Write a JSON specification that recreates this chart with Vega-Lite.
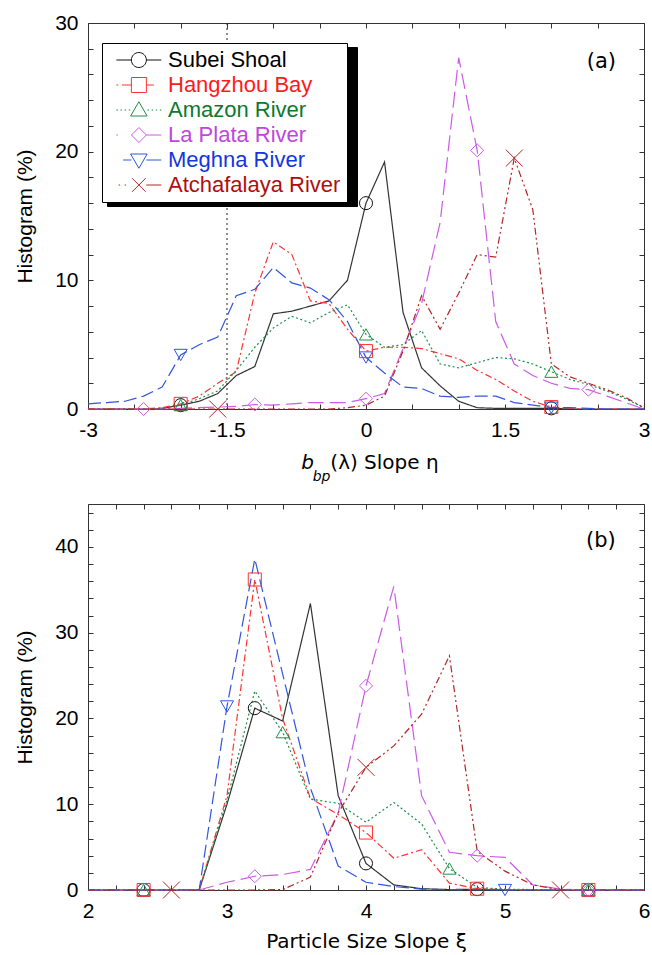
{
  "$schema": "https://vega.github.io/schema/vega-lite/v6.json",
  "background": "white",
  "padding": {"left": 14, "top": 11, "right": 0, "bottom": 0},
  "autosize": {"type": "pad"},
  "datasets": {
    "a": [
      {"x": -3, "Subei Shoal": 0, "Hangzhou Bay": 0, "Amazon River": 0, "La Plata River": 0, "Meghna River": 0.4, "Atchafalaya River": 0},
      {"x": -2.8, "Subei Shoal": 0, "Hangzhou Bay": 0, "Amazon River": 0, "La Plata River": 0, "Meghna River": 0.5, "Atchafalaya River": 0},
      {"x": -2.6, "Subei Shoal": 0, "Hangzhou Bay": 0, "Amazon River": 0, "La Plata River": 0, "Meghna River": 0.6, "Atchafalaya River": 0},
      {"x": -2.4, "Subei Shoal": 0, "Hangzhou Bay": 0, "Amazon River": 0, "La Plata River": 0, "Meghna River": 1.0, "Atchafalaya River": 0},
      {"x": -2.2, "Subei Shoal": 0.05, "Hangzhou Bay": 0.1, "Amazon River": 0.05, "La Plata River": 0, "Meghna River": 1.7, "Atchafalaya River": 0},
      {"x": -2, "Subei Shoal": 0.3, "Hangzhou Bay": 0.4, "Amazon River": 0.3, "La Plata River": 0.05, "Meghna River": 4.2, "Atchafalaya River": 0},
      {"x": -1.8, "Subei Shoal": 0.6, "Hangzhou Bay": 1.0, "Amazon River": 0.8, "La Plata River": 0.1, "Meghna River": 5.0, "Atchafalaya River": 0},
      {"x": -1.6, "Subei Shoal": 1.2, "Hangzhou Bay": 2.0, "Amazon River": 1.4, "La Plata River": 0.15, "Meghna River": 5.6, "Atchafalaya River": 0},
      {"x": -1.4, "Subei Shoal": 2.6, "Hangzhou Bay": 2.9, "Amazon River": 3.0, "La Plata River": 0.2, "Meghna River": 8.8, "Atchafalaya River": 0},
      {"x": -1.2, "Subei Shoal": 3.3, "Hangzhou Bay": 9.0, "Amazon River": 4.8, "La Plata River": 0.35, "Meghna River": 9.3, "Atchafalaya River": 0},
      {"x": -1, "Subei Shoal": 7.4, "Hangzhou Bay": 13.0, "Amazon River": 6.3, "La Plata River": 0.3, "Meghna River": 11.0, "Atchafalaya River": 0},
      {"x": -0.8, "Subei Shoal": 7.6, "Hangzhou Bay": 12.0, "Amazon River": 7.2, "La Plata River": 0.4, "Meghna River": 9.8, "Atchafalaya River": 0},
      {"x": -0.6, "Subei Shoal": 8.0, "Hangzhou Bay": 8.4, "Amazon River": 6.7, "La Plata River": 0.5, "Meghna River": 9.4, "Atchafalaya River": 0},
      {"x": -0.4, "Subei Shoal": 8.4, "Hangzhou Bay": 8.2, "Amazon River": 7.5, "La Plata River": 0.5, "Meghna River": 8.5, "Atchafalaya River": 0},
      {"x": -0.2, "Subei Shoal": 10.0, "Hangzhou Bay": 6.2, "Amazon River": 8.1, "La Plata River": 0.5, "Meghna River": 6.8, "Atchafalaya River": 0.1},
      {"x": 0, "Subei Shoal": 16.0, "Hangzhou Bay": 4.5, "Amazon River": 5.8, "La Plata River": 0.8, "Meghna River": 4.0, "Atchafalaya River": 0.3},
      {"x": 0.2, "Subei Shoal": 19.2, "Hangzhou Bay": 4.8, "Amazon River": 4.8, "La Plata River": 1.2, "Meghna River": 2.8, "Atchafalaya River": 1.0},
      {"x": 0.4, "Subei Shoal": 7.5, "Hangzhou Bay": 4.8, "Amazon River": 5.0, "La Plata River": 4.7, "Meghna River": 1.7, "Atchafalaya River": 4.5},
      {"x": 0.6, "Subei Shoal": 3.2, "Hangzhou Bay": 4.7, "Amazon River": 6.1, "La Plata River": 8.2, "Meghna River": 1.6, "Atchafalaya River": 8.8},
      {"x": 0.8, "Subei Shoal": 1.8, "Hangzhou Bay": 4.3, "Amazon River": 3.5, "La Plata River": 14.5, "Meghna River": 1.0, "Atchafalaya River": 6.2},
      {"x": 1, "Subei Shoal": 0.6, "Hangzhou Bay": 3.9, "Amazon River": 3.2, "La Plata River": 27.3, "Meghna River": 0.9, "Atchafalaya River": 9.0},
      {"x": 1.2, "Subei Shoal": 0.1, "Hangzhou Bay": 3.0, "Amazon River": 3.6, "La Plata River": 20.1, "Meghna River": 1.0, "Atchafalaya River": 12.0},
      {"x": 1.4, "Subei Shoal": 0.05, "Hangzhou Bay": 2.3, "Amazon River": 4.0, "La Plata River": 6.8, "Meghna River": 1.0, "Atchafalaya River": 11.8},
      {"x": 1.6, "Subei Shoal": 0.05, "Hangzhou Bay": 1.4, "Amazon River": 3.9, "La Plata River": 3.5, "Meghna River": 0.5, "Atchafalaya River": 19.5},
      {"x": 1.8, "Subei Shoal": 0.05, "Hangzhou Bay": 0.6, "Amazon River": 3.5, "La Plata River": 2.6, "Meghna River": 0.3, "Atchafalaya River": 15.5},
      {"x": 2, "Subei Shoal": 0.05, "Hangzhou Bay": 0.15, "Amazon River": 2.9, "La Plata River": 2.0, "Meghna River": 0.1, "Atchafalaya River": 3.5},
      {"x": 2.2, "Subei Shoal": 0, "Hangzhou Bay": 0.05, "Amazon River": 2.3, "La Plata River": 1.6, "Meghna River": 0.1, "Atchafalaya River": 2.5},
      {"x": 2.4, "Subei Shoal": 0, "Hangzhou Bay": 0, "Amazon River": 1.9, "La Plata River": 1.5, "Meghna River": 0.05, "Atchafalaya River": 2.0},
      {"x": 2.6, "Subei Shoal": 0, "Hangzhou Bay": 0, "Amazon River": 1.4, "La Plata River": 1.0, "Meghna River": 0, "Atchafalaya River": 1.5},
      {"x": 2.8, "Subei Shoal": 0, "Hangzhou Bay": 0, "Amazon River": 0.8, "La Plata River": 0.5, "Meghna River": 0, "Atchafalaya River": 0.9},
      {"x": 3, "Subei Shoal": 0, "Hangzhou Bay": 0, "Amazon River": 0.1, "La Plata River": 0, "Meghna River": 0, "Atchafalaya River": 0.1}
    ],
    "b": [
      {"x": 2, "Subei Shoal": 0, "Hangzhou Bay": 0, "Amazon River": 0, "La Plata River": 0, "Meghna River": 0, "Atchafalaya River": 0},
      {"x": 2.2, "Subei Shoal": 0, "Hangzhou Bay": 0, "Amazon River": 0, "La Plata River": 0, "Meghna River": 0, "Atchafalaya River": 0},
      {"x": 2.4, "Subei Shoal": 0, "Hangzhou Bay": 0, "Amazon River": 0, "La Plata River": 0, "Meghna River": 0, "Atchafalaya River": 0},
      {"x": 2.6, "Subei Shoal": 0, "Hangzhou Bay": 0, "Amazon River": 0, "La Plata River": 0, "Meghna River": 0, "Atchafalaya River": 0},
      {"x": 2.8, "Subei Shoal": 0, "Hangzhou Bay": 0, "Amazon River": 0, "La Plata River": 0, "Meghna River": 0, "Atchafalaya River": 0},
      {"x": 3, "Subei Shoal": 10.0, "Hangzhou Bay": 11.0, "Amazon River": 10.5, "La Plata River": 0.9, "Meghna River": 21.4, "Atchafalaya River": 0},
      {"x": 3.2, "Subei Shoal": 21.2, "Hangzhou Bay": 36.2, "Amazon River": 23.2, "La Plata River": 1.6, "Meghna River": 38.6, "Atchafalaya River": 0},
      {"x": 3.4, "Subei Shoal": 19.7, "Hangzhou Bay": 20.0, "Amazon River": 18.4, "La Plata River": 1.8, "Meghna River": 25.2, "Atchafalaya River": 0.05},
      {"x": 3.6, "Subei Shoal": 33.4, "Hangzhou Bay": 10.7, "Amazon River": 10.6, "La Plata River": 2.4, "Meghna River": 11.9, "Atchafalaya River": 1.5},
      {"x": 3.8, "Subei Shoal": 11.0, "Hangzhou Bay": 8.8, "Amazon River": 10.1, "La Plata River": 9.0, "Meghna River": 2.8, "Atchafalaya River": 9.0},
      {"x": 4, "Subei Shoal": 3.1, "Hangzhou Bay": 6.7, "Amazon River": 7.9, "La Plata River": 23.8, "Meghna River": 0.9, "Atchafalaya River": 14.3},
      {"x": 4.2, "Subei Shoal": 0.6, "Hangzhou Bay": 3.7, "Amazon River": 10.2, "La Plata River": 35.4, "Meghna River": 0.4, "Atchafalaya River": 16.8},
      {"x": 4.4, "Subei Shoal": 0.15, "Hangzhou Bay": 4.7, "Amazon River": 7.7, "La Plata River": 11.0, "Meghna River": 0.1, "Atchafalaya River": 20.5},
      {"x": 4.6, "Subei Shoal": 0.05, "Hangzhou Bay": 0.8, "Amazon River": 2.5, "La Plata River": 4.4, "Meghna River": 0.05, "Atchafalaya River": 27.3},
      {"x": 4.8, "Subei Shoal": 0.1, "Hangzhou Bay": 0.15, "Amazon River": 0.3, "La Plata River": 4.0, "Meghna River": 0.05, "Atchafalaya River": 4.5},
      {"x": 5, "Subei Shoal": 0, "Hangzhou Bay": 0.05, "Amazon River": 0.1, "La Plata River": 3.8, "Meghna River": 0, "Atchafalaya River": 2.2},
      {"x": 5.2, "Subei Shoal": 0, "Hangzhou Bay": 0, "Amazon River": 0.05, "La Plata River": 0.6, "Meghna River": 0, "Atchafalaya River": 0.6},
      {"x": 5.4, "Subei Shoal": 0, "Hangzhou Bay": 0, "Amazon River": 0, "La Plata River": 0.1, "Meghna River": 0, "Atchafalaya River": 0},
      {"x": 5.6, "Subei Shoal": 0, "Hangzhou Bay": 0, "Amazon River": 0, "La Plata River": 0, "Meghna River": 0, "Atchafalaya River": 0},
      {"x": 5.8, "Subei Shoal": 0, "Hangzhou Bay": 0, "Amazon River": 0, "La Plata River": 0, "Meghna River": 0, "Atchafalaya River": 0},
      {"x": 6, "Subei Shoal": 0, "Hangzhou Bay": 0, "Amazon River": 0, "La Plata River": 0, "Meghna River": 0, "Atchafalaya River": 0}
    ]
  },
  "config": {
    "view": {"stroke": "#333333", "strokeWidth": 1},
    "axis": {
      "domain": false, "grid": false, "tickSize": -5, "tickColor": "#333333", "tickWidth": 1,
      "labelFont": "Liberation Sans", "labelFontSize": 21, "labelColor": "#000000",
      "titleFont": "Liberation Sans", "titleFontSize": 21, "titleFontWeight": "normal", "titleColor": "#000000",
      "labelFlush": false, "labelOverlap": false, "labelPadding": 15
    },
    "legend": {
      "padding": 6, "rowPadding": 3,
      "labelFont": "Liberation Sans", "labelFontSize": 22, "labelOffset": 38, "labelLimit": 300,
      "symbolSize": 225, "symbolStrokeWidth": 1, "strokeColor": "#000000"
    }
  },
  "spacing": 95,
  "bounds": "flush",
  "resolve": {
    "scale": {"color": "independent", "shape": "independent", "strokeDash": "independent"},
    "legend": {"color": "independent", "shape": "independent", "strokeDash": "independent"}
  },
  "vconcat": [
    {
      "width": 556,
      "height": 386,
      "data": {"name": "a"},
      "transform": [{"fold": ["Subei Shoal", "Hangzhou Bay", "Amazon River", "La Plata River", "Meghna River", "Atchafalaya River"], "as": ["s", "h"]}],
      "resolve": {
        "scale": {"color": "independent", "shape": "independent", "strokeDash": "independent"},
        "legend": {"color": "independent", "shape": "independent", "strokeDash": "independent"}
      },
      "layer": [
        {
          "data": {"values": [{}]},
          "mark": {"type": "rule", "strokeDash": [2, 3], "color": "#222222", "strokeWidth": 1},
          "encoding": {
            "x": {"datum": -1.5, "type": "quantitative", "scale": {"domain": [-3, 3], "nice": false}, "axis": null}
          }
        },
        {
          "mark": {"type": "line", "strokeWidth": 1.2},
          "encoding": {
            "x": {
              "field": "x", "type": "quantitative", "scale": {"domain": [-3, 3], "nice": false},
              "axis": {"orient": "bottom", "title": null, "values": [-3, -2.5, -2, -1.5, -1, -0.5, 0, 0.5, 1, 1.5, 2, 2.5, 3], "labelExpr": "abs(datum.value % 1.5) < 1e-9 ? toString(datum.value) : ''"}
            },
            "y": {
              "field": "h", "type": "quantitative", "scale": {"domain": [0, 30], "nice": false},
              "axis": {"orient": "left", "title": "Histogram (%)", "titlePadding": 19, "values": [0, 2, 4, 6, 8, 10, 12, 14, 16, 18, 20, 22, 24, 26, 28, 30], "labelExpr": "datum.value % 10 == 0 ? toString(datum.value) : ''"}
            },
            "color": {
              "field": "s", "type": "nominal", "legend": null,
              "scale": {"domain": ["Subei Shoal", "Hangzhou Bay", "Amazon River", "La Plata River", "Meghna River", "Atchafalaya River"], "range": ["#333333", "#ff3333", "#1f8f4a", "#cc5ae6", "#3355dd", "#b52525"]}
            },
            "strokeDash": {
              "field": "s", "type": "nominal", "legend": null,
              "scale": {"domain": ["Subei Shoal", "Hangzhou Bay", "Amazon River", "La Plata River", "Meghna River", "Atchafalaya River"], "range": [[1, 0], [7, 3, 2, 3], [2, 2.5], [16, 6], [13, 5], [7, 3, 2, 3, 2, 3]]}
            }
          }
        },
        {
          "transform": [{"filter": "(indexof(['Subei Shoal','Hangzhou Bay','Amazon River','Meghna River'], datum.s) >= 0 && indexof([-2,0,2], datum.x) >= 0) || (datum.s == 'La Plata River' && indexof([-2.4,-1.2,0,1.2,2.4], datum.x) >= 0) || (datum.s == 'Atchafalaya River' && indexof([-1.6,1.6], datum.x) >= 0)"}],
          "mark": {"type": "point", "filled": false, "strokeWidth": 1, "size": 170, "opacity": 1},
          "encoding": {
            "x": {
              "field": "x", "type": "quantitative", "scale": {"domain": [-3, 3], "nice": false},
              "axis": {"orient": "top", "title": null, "labels": false, "values": [-3, -2.5, -2, -1.5, -1, -0.5, 0, 0.5, 1, 1.5, 2, 2.5, 3]}
            },
            "y": {
              "field": "h", "type": "quantitative", "scale": {"domain": [0, 30], "nice": false},
              "axis": {"orient": "right", "title": null, "labels": false, "values": [0, 2, 4, 6, 8, 10, 12, 14, 16, 18, 20, 22, 24, 26, 28, 30]}
            },
            "color": {
              "field": "s", "type": "nominal", "legend": null,
              "scale": {"domain": ["Subei Shoal", "Hangzhou Bay", "Amazon River", "La Plata River", "Meghna River", "Atchafalaya River"], "range": ["#111111", "#ff3333", "#1f8f4a", "#cc5ae6", "#3355dd", "#b52525"]}
            },
            "shape": {
              "field": "s", "type": "nominal", "legend": null,
              "scale": {"domain": ["Subei Shoal", "Hangzhou Bay", "Amazon River", "La Plata River", "Meghna River", "Atchafalaya River"], "range": ["circle", "square", "triangle-up", "diamond", "triangle-down", "M-1.3,-1.3L1.3,1.3M-1.3,1.3L1.3,-1.3"]}
            }
          }
        },
        {
          "transform": [{"filter": "false"}],
          "mark": {"type": "point", "filled": false, "strokeWidth": 1, "opacity": 1},
          "encoding": {
            "color": {
              "field": "s", "type": "nominal",
              "scale": {"domain": ["Subei Shoal", "Hangzhou Bay", "Amazon River", "La Plata River", "Meghna River", "Atchafalaya River"], "range": ["#000000", "#000000", "#000000", "#000000", "#000000", "#000000"]},
              "legend": {"title": null, "orient": "none", "legendX": 19, "legendY": 24, "fillColor": "#000000", "labelExpr": "''", "labelOffset": 216}
            },
            "shape": {
              "field": "s", "type": "nominal",
              "scale": {
                "domain": ["Subei Shoal", "Hangzhou Bay", "Amazon River", "La Plata River", "Meghna River", "Atchafalaya River"],
                "range": ["M-0.35,0H5.65", "M-0.35,0H5.65", "M-0.35,0H5.65", "M-0.35,0H5.65", "M-0.35,0H5.65", "M-0.35,0H5.65"]
              },
              "legend": {"title": null, "orient": "none", "legendX": 19, "legendY": 24, "fillColor": "#000000", "labelExpr": "''", "labelOffset": 216}
            }
          }
        },
        {
          "transform": [{"filter": "false"}],
          "mark": {"type": "point", "filled": false, "strokeWidth": 1, "opacity": 1},
          "encoding": {
            "color": {
              "field": "s", "type": "nominal",
              "scale": {"domain": ["Subei Shoal", "Hangzhou Bay", "Amazon River", "La Plata River", "Meghna River", "Atchafalaya River"], "range": ["#111111", "#ff3333", "#1f8f4a", "#cc5ae6", "#3355dd", "#b52525"]},
              "legend": {
                "title": null, "orient": "none", "legendX": 14, "legendY": 20, "fillColor": "#ffffff",
                "labelColor": {"expr": "datum.value == 'Subei Shoal' ? '#000000' : datum.value == 'Hangzhou Bay' ? '#ff1a1a' : datum.value == 'Amazon River' ? '#0b7a2e' : datum.value == 'La Plata River' ? '#c046dc' : datum.value == 'Meghna River' ? '#1236e0' : '#b00e0e'"}
              }
            },
            "shape": {
              "field": "s", "type": "nominal",
              "scale": {
                "domain": ["Subei Shoal", "Hangzhou Bay", "Amazon River", "La Plata River", "Meghna River", "Atchafalaya River"],
                "range": [
                  "M-0.35,0H1.65M3.65,0H5.65M3.65,0A1,1,0,1,1,1.65,0A1,1,0,1,1,3.65,0Z",
                  "M-0.35,0H-0.1M0.4,0H1.65M3.65,0H4.65M1.65,-1H3.65V1H1.65Z",
                  "M-0.35,0H-0.15M0.2,0H0.4M0.75,0H0.95M1.3,0H1.5M3.8,0H4M4.35,0H4.55M4.9,0H5.1M5.45,0H5.65M2.65,-1.1L3.75,0.8H1.55Z",
                  "M-0.35,0H-0.15M3.65,0H5.65M2.65,-1L3.65,0L2.65,1L1.65,0Z",
                  "M0.55,0H1.65M3.65,0H5.65M1.55,-0.8H3.75L2.65,1.1Z",
                  "M-0.05,0H0.15M0.75,0H0.95M3.65,0H5.65M1.75,-0.9L3.55,0.9M1.75,0.9L3.55,-0.9"
                ]
              },
              "legend": {
                "title": null, "orient": "none", "legendX": 14, "legendY": 20, "fillColor": "#ffffff",
                "labelColor": {"expr": "datum.value == 'Subei Shoal' ? '#000000' : datum.value == 'Hangzhou Bay' ? '#ff1a1a' : datum.value == 'Amazon River' ? '#0b7a2e' : datum.value == 'La Plata River' ? '#c046dc' : datum.value == 'Meghna River' ? '#1236e0' : '#b00e0e'"}
              }
            }
          }
        },
        {
          "data": {"values": [{}]},
          "mark": {"type": "text", "text": "(a)", "font": "DejaVu Sans", "fontSize": 21, "align": "center", "baseline": "middle", "color": "#000000"},
          "encoding": {
            "x": {"datum": 2.54, "type": "quantitative", "scale": {"domain": [-3, 3], "nice": false}, "axis": null},
            "y": {"datum": 27, "type": "quantitative", "scale": {"domain": [0, 30], "nice": false}, "axis": null}
          }
        },
        {
          "data": {"values": [{}]},
          "mark": {"type": "text", "text": "b", "font": "DejaVu Sans", "fontSize": 20, "fontStyle": "italic", "align": "left", "baseline": "alphabetic", "color": "#000000"},
          "encoding": {
            "x": {"datum": -0.7, "type": "quantitative", "scale": {"domain": [-3, 3], "nice": false}, "axis": null},
            "y": {"datum": -4.66, "type": "quantitative", "scale": {"domain": [0, 30], "nice": false}, "axis": null}
          }
        },
        {
          "data": {"values": [{}]},
          "mark": {"type": "text", "text": "bp", "font": "DejaVu Sans", "fontSize": 14, "fontStyle": "italic", "align": "left", "baseline": "alphabetic", "color": "#000000"},
          "encoding": {
            "x": {"datum": -0.575, "type": "quantitative", "scale": {"domain": [-3, 3], "nice": false}, "axis": null},
            "y": {"datum": -5.6, "type": "quantitative", "scale": {"domain": [0, 30], "nice": false}, "axis": null}
          }
        },
        {
          "data": {"values": [{}]},
          "mark": {"type": "text", "text": "(λ) Slope η", "font": "DejaVu Sans", "fontSize": 20, "align": "left", "baseline": "alphabetic", "color": "#000000"},
          "encoding": {
            "x": {"datum": -0.385, "type": "quantitative", "scale": {"domain": [-3, 3], "nice": false}, "axis": null},
            "y": {"datum": -4.66, "type": "quantitative", "scale": {"domain": [0, 30], "nice": false}, "axis": null}
          }
        }
      ]
    },
    {
      "width": 556,
      "height": 386,
      "data": {"name": "b"},
      "transform": [{"fold": ["Subei Shoal", "Hangzhou Bay", "Amazon River", "La Plata River", "Meghna River", "Atchafalaya River"], "as": ["s", "h"]}],
      "resolve": {
        "scale": {"color": "independent", "shape": "independent", "strokeDash": "independent"}
      },
      "layer": [
        {
          "mark": {"type": "line", "strokeWidth": 1.2},
          "encoding": {
            "x": {
              "field": "x", "type": "quantitative", "scale": {"domain": [2, 6], "nice": false},
              "axis": {"orient": "bottom", "title": "Particle Size Slope ξ", "titleFont": "DejaVu Sans", "titleFontSize": 20, "titlePadding": 10, "values": [2, 2.2, 2.4, 2.6, 2.8, 3, 3.2, 3.4, 3.6, 3.8, 4, 4.2, 4.4, 4.6, 4.8, 5, 5.2, 5.4, 5.6, 5.8, 6], "labelExpr": "datum.value % 1 == 0 ? toString(datum.value) : ''"}
            },
            "y": {
              "field": "h", "type": "quantitative", "scale": {"domain": [0, 45], "nice": false},
              "axis": {"orient": "left", "title": "Histogram (%)", "titlePadding": 19, "values": [0, 2, 4, 6, 8, 10, 12, 14, 16, 18, 20, 22, 24, 26, 28, 30, 32, 34, 36, 38, 40, 42, 44], "labelExpr": "datum.value % 10 == 0 ? toString(datum.value) : ''"}
            },
            "color": {
              "field": "s", "type": "nominal", "legend": null,
              "scale": {"domain": ["Subei Shoal", "Hangzhou Bay", "Amazon River", "La Plata River", "Meghna River", "Atchafalaya River"], "range": ["#333333", "#ff3333", "#1f8f4a", "#cc5ae6", "#3355dd", "#b52525"]}
            },
            "strokeDash": {
              "field": "s", "type": "nominal", "legend": null,
              "scale": {"domain": ["Subei Shoal", "Hangzhou Bay", "Amazon River", "La Plata River", "Meghna River", "Atchafalaya River"], "range": [[1, 0], [7, 3, 2, 3], [2, 2.5], [16, 6], [13, 5], [7, 3, 2, 3, 2, 3]]}
            }
          }
        },
        {
          "transform": [{"filter": "(indexof(['Subei Shoal','Hangzhou Bay'], datum.s) >= 0 && indexof([2.4,3.2,4,4.8,5.6], datum.x) >= 0) || (datum.s == 'La Plata River' && indexof([3.2,4,4.8,5.6], datum.x) >= 0) || (datum.s == 'Amazon River' && indexof([2.4,3.4,4.6,5.6], datum.x) >= 0) || (datum.s == 'Meghna River' && indexof([3,5], datum.x) >= 0) || (datum.s == 'Atchafalaya River' && indexof([2.6,4,5.4], datum.x) >= 0)"}],
          "mark": {"type": "point", "filled": false, "strokeWidth": 1, "size": 170, "opacity": 1},
          "encoding": {
            "x": {
              "field": "x", "type": "quantitative", "scale": {"domain": [2, 6], "nice": false},
              "axis": {"orient": "top", "title": null, "labels": false, "values": [2, 2.2, 2.4, 2.6, 2.8, 3, 3.2, 3.4, 3.6, 3.8, 4, 4.2, 4.4, 4.6, 4.8, 5, 5.2, 5.4, 5.6, 5.8, 6]}
            },
            "y": {
              "field": "h", "type": "quantitative", "scale": {"domain": [0, 45], "nice": false},
              "axis": {"orient": "right", "title": null, "labels": false, "values": [0, 2, 4, 6, 8, 10, 12, 14, 16, 18, 20, 22, 24, 26, 28, 30, 32, 34, 36, 38, 40, 42, 44]}
            },
            "color": {
              "field": "s", "type": "nominal", "legend": null,
              "scale": {"domain": ["Subei Shoal", "Hangzhou Bay", "Amazon River", "La Plata River", "Meghna River", "Atchafalaya River"], "range": ["#111111", "#ff3333", "#1f8f4a", "#cc5ae6", "#3355dd", "#b52525"]}
            },
            "shape": {
              "field": "s", "type": "nominal", "legend": null,
              "scale": {"domain": ["Subei Shoal", "Hangzhou Bay", "Amazon River", "La Plata River", "Meghna River", "Atchafalaya River"], "range": ["circle", "square", "triangle-up", "diamond", "triangle-down", "M-1.3,-1.3L1.3,1.3M-1.3,1.3L1.3,-1.3"]}
            }
          }
        },
        {
          "data": {"values": [{}]},
          "mark": {"type": "text", "text": "(b)", "font": "DejaVu Sans", "fontSize": 21, "align": "center", "baseline": "middle", "color": "#000000"},
          "encoding": {
            "x": {"datum": 5.69, "type": "quantitative", "scale": {"domain": [2, 6], "nice": false}, "axis": null},
            "y": {"datum": 40.7, "type": "quantitative", "scale": {"domain": [0, 45], "nice": false}, "axis": null}
          }
        }
      ]
    }
  ]
}
